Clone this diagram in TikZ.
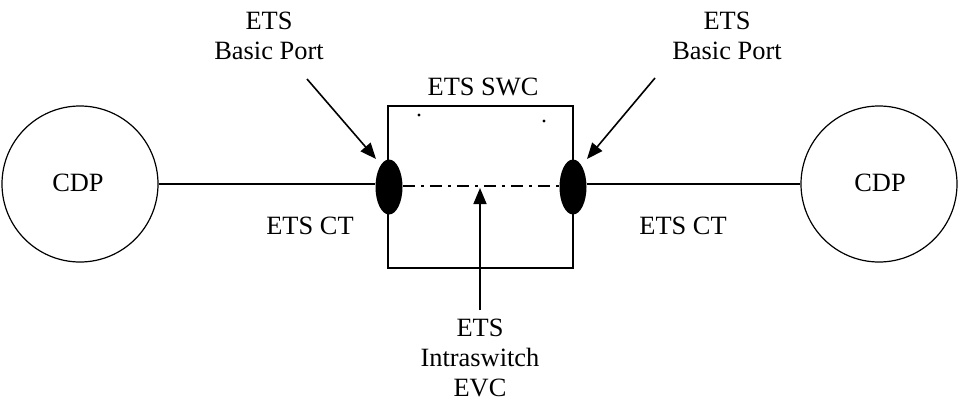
\documentclass[tikz,border=0pt]{standalone}
\usepackage{fontspec}
\setmainfont{Liberation Serif}
\usetikzlibrary{arrows.meta,shapes.geometric}
\begin{document}
\begin{tikzpicture}[x=0.5pt,y=-0.5pt,
  lbl/.style={font=\fontsize{13.2}{15}\selectfont,align=center,inner sep=0pt},
  line/.style={line width=0.8pt},
  arr/.style={line width=0.8pt,-{Triangle[length=8pt,width=6.5pt]}},
  port/.style={ellipse,fill=black,minimum width=13.5pt,minimum height=27.5pt,inner sep=0pt}]
\useasboundingbox (0,0) rectangle (959,407);
\node[circle,draw,line width=0.6pt,minimum size=78pt,inner sep=0pt] (c1) at (80,184) {};
\node[circle,draw,line width=0.6pt,minimum size=78pt,inner sep=0pt] (c2) at (879,184) {};
\node[lbl] (t1) at (78,183) {CDP};
\node[lbl] (t2) at (880,183) {CDP};
\draw[line width=0.7pt] (388,106) rectangle (573,268);
\node[lbl] (swct) at (483,87) {ETS SWC};
\node[port] (p1) at (389,187) {};
\node[port] (p2) at (573,187) {};
\draw[line] (c1.east |- 0,184) -- (p1.west |- 0,184);
\draw[line] (p2.east |- 0,184) -- (c2.west |- 0,184);
\draw[line,dash pattern=on 6pt off 3pt on 1.5pt off 3pt] (p1.east |- 0,186) -- (p2.west |- 0,186);
\node[lbl] (ct1) at (310,226) {ETS CT};
\node[lbl] (ct2) at (683,226) {ETS CT};
\node[lbl] (bp1) at (269,36) {ETS\\Basic Port};
\node[lbl] (bp2) at (727,36) {ETS\\Basic Port};
\coordinate (a1s) at (307,79);
\coordinate (a1e) at (376,159);
\coordinate (a2s) at (655,78);
\coordinate (a2e) at (587,159);
\draw[arr] (a1s) -- (a1e);
\draw[arr] (a2s) -- (a2e);
\node[lbl] (ev) at (480,358) {ETS\\Intraswitch\\EVC};
\coordinate (evs) at (480,310);
\coordinate (eve) at (480,188);
\draw[arr] (evs) -- (eve);
\fill (419,115) circle (0.8pt);
\fill (544,121) circle (0.8pt);
\end{tikzpicture}
\end{document}
